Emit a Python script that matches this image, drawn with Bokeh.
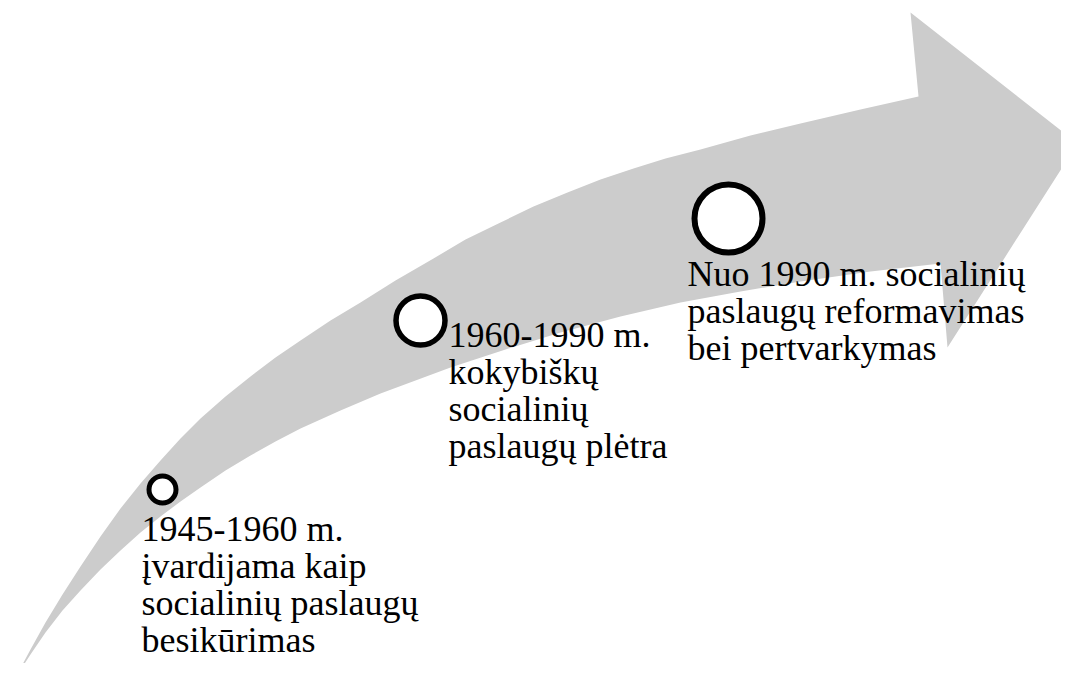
from bokeh.plotting import figure
from bokeh.models import Range1d
from bokeh.core.properties import value
from bokeh.embed import file_html
from bokeh.resources import INLINE

# Arrow outline (image pixel coordinates, y downward)
upper_x = [15, 30, 45, 62, 80, 100, 120, 140, 160, 180, 200, 225, 250, 275, 300, 330,
           360, 395, 433, 465, 500, 533, 567, 600, 633, 665, 700, 750, 800, 860, 918]
upper_y = [677, 649, 622, 594, 566, 536, 508, 483, 460, 438, 418, 396, 376, 357, 340, 320,
           302, 280, 258, 239, 222, 206, 192, 179, 168, 158, 149, 135, 123, 109, 96]
head_x = [910, 1077, 947, 940]
head_y = [12, 143, 347, 263]
lower_x = [870, 800, 740, 680, 620, 560, 505, 450, 415, 380, 340, 300, 275, 250, 225,
           200, 180, 160, 140, 120, 100, 80, 62, 45, 30]
lower_y = [271, 281, 291, 302, 316, 332, 349, 367, 380, 393, 410, 428, 441, 455, 470,
           487, 501, 516, 532, 550, 569, 590, 610, 632, 654]

# Milestones
circle_x = [162, 420, 728]
circle_y = [489, 320, 218]
circle_size = [27, 49, 68]
circle_lw = [5, 5.5, 6]

label_lines = [
    ["1945-1960 m.", "įvardijama kaip", "socialinių paslaugų", "besikūrimas"],
    ["1960-1990 m.", "kokybiškų", "socialinių", "paslaugų plėtra"],
    ["Nuo 1990 m. socialinių", "paslaugų reformavimas", "bei pertvarkymas"],
]
label_x = [141, 448, 687]
label_y0 = [508, 314, 253]
line_step = 37.0

W, H = 1061, 663
p = figure(width=W, height=H, output_backend="svg", toolbar_location=None,
           x_range=Range1d(0, W), y_range=Range1d(H, 0),
           min_border=0, outline_line_color=None)
p.axis.visible = False
p.grid.visible = False
p.background_fill_color = "white"
p.border_fill_color = "white"

xs = upper_x + head_x + lower_x
ys = upper_y + head_y + lower_y
p.patch(xs, ys, fill_color="#cccccc", line_color=None)

p.scatter(circle_x, circle_y, marker="circle", size=circle_size,
          fill_color="white", line_color="black", line_width=circle_lw)

tx, ty, tt = [], [], []
for lines, x0, y0 in zip(label_lines, label_x, label_y0):
    for i, s in enumerate(lines):
        tx.append(x0)
        ty.append(y0 + i * line_step)
        tt.append(s)
p.text(tx, ty, text=tt, text_font=value("Liberation Serif"), text_font_size="36px",
       text_color="black", text_baseline="top", text_align="left")

open("out.html", "w").write(file_html(p, INLINE))
